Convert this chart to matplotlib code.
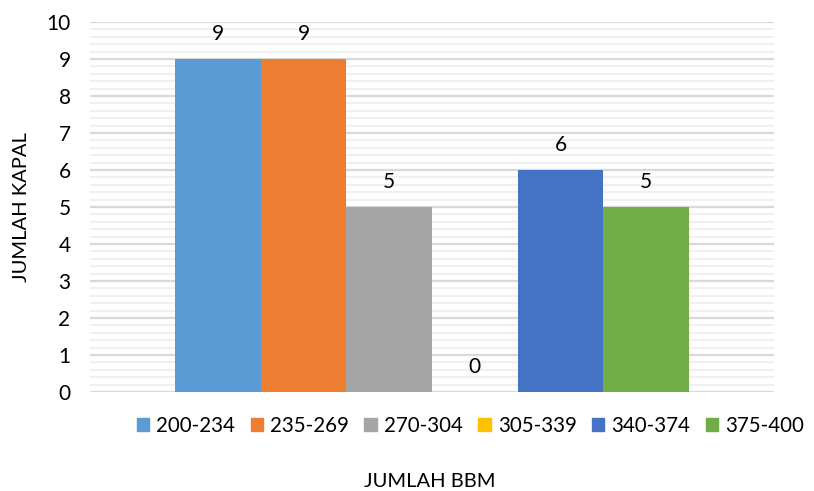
import numpy as np
import matplotlib.pyplot as plt
from matplotlib.patches import Patch

plt.rcParams['font.family'] = ['Lato', 'DejaVu Sans']

ranges = ['200-234', '235-269', '270-304', '305-339', '340-374', '375-400']
counts = [9, 9, 5, 0, 6, 5]
colors = ['#5b9bd5', '#ed7d31', '#a5a5a5', '#ffc000', '#4472c4', '#70ad47']

fig = plt.figure(figsize=(8.14, 4.91), dpi=100)
ax = fig.add_axes([0.1106, 0.2016, 0.8403, 0.7536])

w = 0.1253
n = len(ranges)
offs = (np.arange(n) - (n - 1) / 2) * w

for i in range(n):
    ax.bar(offs[i], counts[i], w, color=colors[i], zorder=3)
    ax.annotate(str(counts[i]), (offs[i], counts[i]), xytext=(0, 18),
                textcoords='offset points', ha='center', va='center',
                fontsize=15, color='#000000')

ax.set_xlim(-0.5, 0.5)
ax.set_ylim(0, 10)
ax.set_yticks(range(0, 11))
ax.set_yticks(np.arange(0, 10, 0.2), minor=True)
ax.set_xticks([])
ax.tick_params(axis='y', which='both', length=0, labelsize=15, pad=14)
ax.grid(axis='y', which='minor', color='#f0f0f0', lw=1.6, zorder=0)
ax.grid(axis='y', which='major', color='#d9d9d9', lw=1.6, zorder=1)
for s in ax.spines.values():
    s.set_visible(False)

ax.set_ylabel('JUMLAH KAPAL', fontsize=14.5, labelpad=12)
fig.text(0.528, 0.02, 'JUMLAH BBM', ha='center', va='center', fontsize=14.5)

handles = [Patch(color=c) for c in colors]
fig.legend(handles, ranges, loc='center', bbox_to_anchor=(0.578, 0.133),
           ncol=n, frameon=False, fontsize=14.8, handlelength=0.6,
           handleheight=0.6, handletextpad=0.35, columnspacing=0.75)

fig.savefig('out.png', dpi=100)
